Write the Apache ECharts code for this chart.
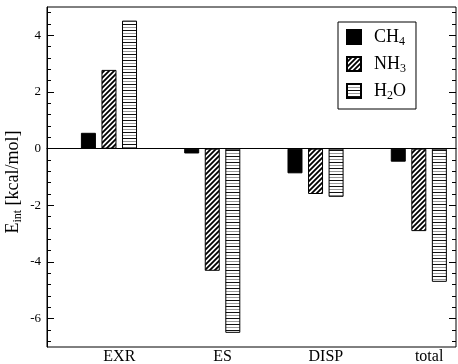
<!DOCTYPE html>
<html>
<head>
<meta charset="utf-8">
<script src="https://cdn.jsdelivr.net/npm/echarts@6/dist/echarts.min.js"></script>
<style>
  html, body { margin: 0; padding: 0; background: #fff; }
  #main { width: 458px; height: 364px; }
</style>
</head>
<body>
<div id="main"></div>
<script>
// chart data
var categories = ['EXR', 'ES', 'DISP', 'total'];
var groupPos = [1, 2, 3, 4];
var ch4 = [0.56, -0.17, -0.87, -0.46];
var nh3 = [2.78, -4.31, -1.60, -2.91];
var h2o = [4.52, -6.50, -1.70, -4.70];
var yMajor = [-6, -4, -2, 0, 2, 4];
var yMinor = [-6.8, -6.4, -5.6, -5.2, -4.8, -4.4, -3.6, -3.2, -2.8, -2.4,
              -1.6, -1.2, -0.8, -0.4, 0.4, 0.8, 1.2, 1.6, 2.4, 2.8, 3.2, 3.6, 4.4, 4.8];

var FONT = 'Liberation Serif';
var labelShift = 0.1;

function hatchPattern() {
    var c = document.createElement('canvas');
    c.width = 5; c.height = 5;
    var g = c.getContext('2d');
    g.fillStyle = '#fff';
    g.fillRect(0, 0, 5, 5);
    g.strokeStyle = '#000';
    g.lineWidth = 1.8;
    g.beginPath();
    g.moveTo(-1, 6); g.lineTo(6, -1);
    g.moveTo(-1, 1); g.lineTo(1, -1);
    g.moveTo(4, 6); g.lineTo(6, 4);
    g.stroke();
    return c;
}

function stripePattern() {
    var c = document.createElement('canvas');
    c.width = 4; c.height = 6;
    var g = c.getContext('2d');
    g.fillStyle = '#fff';
    g.fillRect(0, 0, 4, 6);
    g.fillStyle = '#111';
    g.fillRect(0, 0, 4, 1);
    g.fillStyle = '#999';
    g.fillRect(0, 3, 4, 1);
    return c;
}

function pairs(vals) {
    var out = [];
    for (var i = 0; i < vals.length; i++) {
        out.push([groupPos[i], vals[i]]);
    }
    return out;
}

var subNames = { CH4: '{n|CH}{s|4}', NH3: '{n|NH}{s|3}', H2O: '{n|H}{s|2}{n|O}' };

function yAxisDef(position, ticks, len, withLabels) {
    return {
        type: 'value',
        position: position,
        min: -7,
        max: 5,
        axisLine: { show: withLabels, lineStyle: { color: '#000', width: 1 } },
        axisTick: { show: true, inside: true, length: len, customValues: ticks,
                    lineStyle: { color: '#000', width: 1 } },
        axisLabel: withLabels && position === 'left' ? {
            show: true, customValues: yMajor, color: '#000', fontFamily: FONT, fontSize: 13, margin: 6,
            formatter: function (v) { return String(v); }
        } : { show: false },
        splitLine: { show: false }
    };
}

var chart = echarts.init(document.getElementById('main'));

var option = {
    animation: false,
    backgroundColor: '#fff',
    grid: {
        left: 47, right: 2, top: 7, bottom: 17,
        outerBoundsMode: 'none',
        containLabel: false,
        show: true, borderColor: '#000', borderWidth: 1, backgroundColor: 'transparent'
    },
    // y axis title, rotated
    graphic: [{
        type: 'text',
        x: 13, y: 182,
        rotation: Math.PI / 2,
        style: {
            text: '{n|E}{s|int}{n| [kcal/mol]}',
            align: 'center', verticalAlign: 'middle',
            fill: '#000', font: '18px "Liberation Serif"',
            rich: {
                n: { fontFamily: FONT, fontSize: 18, fill: '#000' },
                s: { fontFamily: FONT, fontSize: 12, fill: '#000', padding: [10, 0, 0, 0] }
            }
        }
    }],
    legend: {
        orient: 'vertical',
        left: 338, top: 22,
        padding: [6, 10, 7, 8],
        borderColor: '#000', borderWidth: 1,
        itemWidth: 14, itemHeight: 14, itemGap: 7,
        icon: 'rect',
        data: ['CH4', 'NH3', 'H2O'],
        formatter: function (name) { return subNames[name]; },
        textStyle: {
            color: '#000', fontFamily: FONT, fontSize: 18, padding: [0, 0, 0, 8],
            rich: {
                n: { fontFamily: FONT, fontSize: 18, color: '#000' },
                s: { fontFamily: FONT, fontSize: 12, color: '#000', padding: [10, 0, 0, 0] }
            }
        }
    },
    xAxis: {
        type: 'value',
        min: 0.4,
        max: 4.36,
        axisLine: { show: true, lineStyle: { color: '#000', width: 1 } },
        axisTick: { show: false },
        splitLine: { show: false },
        axisLabel: {
            customValues: groupPos.map(function (p) { return p + labelShift; }),
            color: '#000', fontFamily: FONT, fontSize: 16, margin: 2,
            formatter: function (v) { return categories[Math.round(v - labelShift) - 1]; }
        }
    },
    yAxis: [
        yAxisDef('left', yMajor, 7, true),
        yAxisDef('left', yMinor, 4, false),
        yAxisDef('right', yMajor, 7, false),
        yAxisDef('right', yMinor, 4, false)
    ],
    series: [
        {
            name: 'CH4', type: 'bar', yAxisIndex: 0,
            barWidth: 15, barGap: '37%',
            itemStyle: { color: '#000', borderColor: '#000', borderWidth: 1 },
            data: pairs(ch4),
            markLine: {
                silent: true, symbol: 'none', label: { show: false },
                lineStyle: { color: '#000', type: 'solid', width: 1 },
                data: [{ yAxis: 0 }]
            }
        },
        {
            name: 'NH3', type: 'bar', yAxisIndex: 0,
            barWidth: 15, barGap: '37%',
            itemStyle: { color: { image: hatchPattern(), repeat: 'repeat' }, borderColor: '#000', borderWidth: 1 },
            data: pairs(nh3)
        },
        {
            name: 'H2O', type: 'bar', yAxisIndex: 0,
            barWidth: 15, barGap: '37%',
            itemStyle: { color: { image: stripePattern(), repeat: 'repeat' }, borderColor: '#000', borderWidth: 1 },
            data: pairs(h2o)
        }
    ]
};

chart.setOption(option);
</script>
</body>
</html>
